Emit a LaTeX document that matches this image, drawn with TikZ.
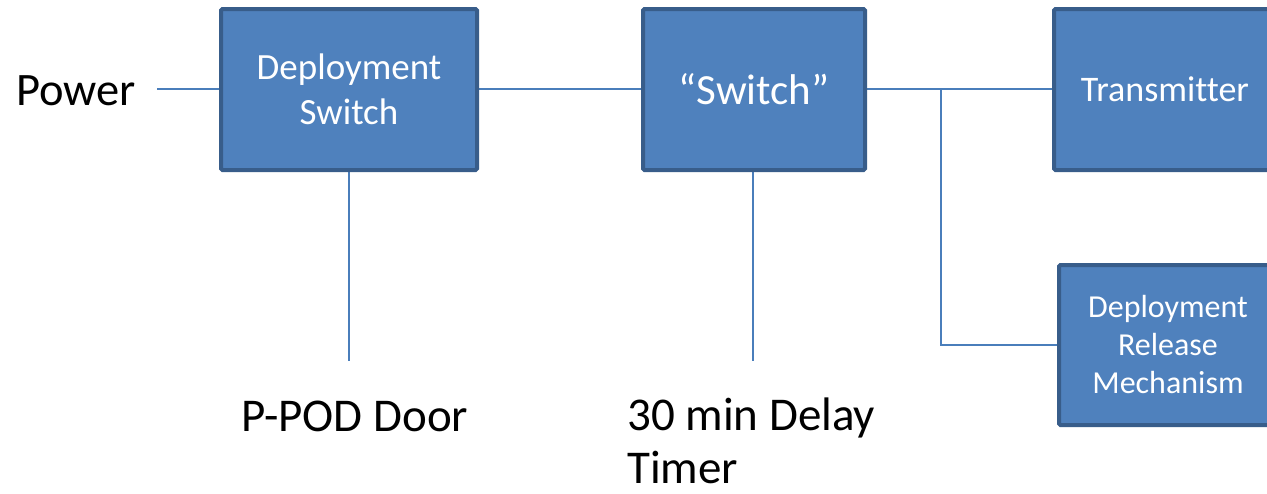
\documentclass[tikz,border=0pt]{standalone}
\usepackage{fontspec}
\setmainfont{Carlito}[Ligatures=NoCommon]
\usetikzlibrary{backgrounds}
\definecolor{boxfill}{HTML}{4F81BD}
\definecolor{boxline}{HTML}{385D8A}
\definecolor{wire}{HTML}{4A7EBB}
\begin{document}
\begin{tikzpicture}[x=1pt,y=-1pt,
  blk/.style={draw=boxline, fill=boxfill, line width=4pt, rounded corners=1.5pt,
    text=white, align=center, inner sep=0pt},
  lbl/.style={text=black, inner sep=0pt},
  wireline/.style={draw=wire, line width=1.6pt}]
\useasboundingbox (0,0) rectangle (1267,493);
\clip (0,0) rectangle (1267,493);
\node[blk, minimum width=256pt, minimum height=161pt,
  font=\fontsize{37}{45}\selectfont] (ds) at (349,89.5) {Deployment\\Switch};
\node[blk, minimum width=222pt, minimum height=161pt,
  font=\fontsize{43}{50}\selectfont] (sw) at (754,89.5) {“Switch”};
\node[blk, minimum width=222pt, minimum height=161pt,
  font=\fontsize{36}{43}\selectfont] (tx) at (1165,89.5) {Transmitter};
\node[blk, minimum width=218pt, minimum height=160pt,
  font=\fontsize{32}{38}\selectfont] (drm) at (1168,345) {Deployment\\Release\\Mechanism};
\node[lbl, anchor=base west, font=\fontsize{46.5}{53}\selectfont] (pw) at (16,105) {Power};
\node[lbl, anchor=base west, font=\fontsize{47}{53}\selectfont] (door) at (241,431) {P-POD Door};
\node[lbl, anchor=base west, align=left, font=\fontsize{47}{53}\selectfont] (timer) at (627,483) {30 min Delay\\Timer};
\coordinate (pwend) at (157,89);
\coordinate (doorend) at (349,361);
\coordinate (timerend) at (753,361);
\coordinate (br) at (941,89);
\begin{pgfonlayer}{background}
\draw[wireline] (pwend) -- (ds.west |- pwend);
\draw[wireline] (ds.east |- pwend) -- (sw.west |- pwend);
\draw[wireline] (sw.east |- pwend) -- (tx.west |- pwend);
\draw[wireline] (br) |- (drm.west);
\draw[wireline] (ds.south -| doorend) -- (doorend);
\draw[wireline] (sw.south -| timerend) -- (timerend);
\end{pgfonlayer}
\end{tikzpicture}
\end{document}
